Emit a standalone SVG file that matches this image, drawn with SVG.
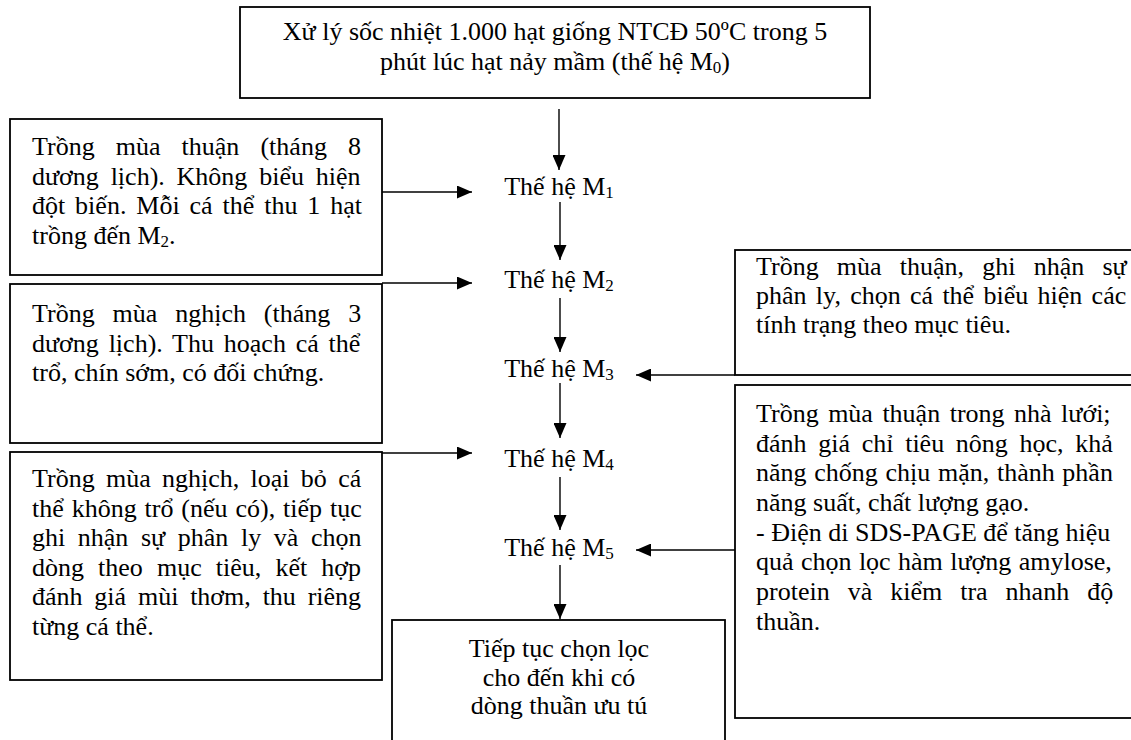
<svg xmlns="http://www.w3.org/2000/svg" width="1131" height="740" viewBox="0 0 1131 740">
<style>
text{font-family:"Liberation Serif","Times New Roman",serif;font-size:26px;fill:#000}
.c{text-anchor:middle}
.box{fill:#fff;stroke:#000;stroke-width:1.8}
.ln{fill:none;stroke:#000;stroke-width:1.4}
.sub{font-size:17px}
</style>
<defs>
<marker id="ah" markerUnits="userSpaceOnUse" markerWidth="15" markerHeight="13" refX="15" refY="6.5" orient="auto">
<path d="M0,0 L15,6.5 L0,13 z" fill="#000"/>
</marker>
</defs>
<rect width="1131" height="740" fill="#fff"/>

<g id="start">
<rect class="box" x="240" y="7" width="630" height="91"/>
<text class="c" x="555" y="40">Xử lý sốc nhiệt 1.000 hạt giống NTCĐ 50ºC trong 5</text>
<text class="c" x="555" y="70">phút lúc hạt nảy mầm (thế hệ M<tspan class="sub" dy="3">0</tspan><tspan dy="-3">)</tspan></text>
</g>

<g id="left1">
<rect class="box" x="10" y="119" width="372" height="156"/>
<text x="32" y="155" style="word-spacing:14.6px">Trồng mùa thuận (tháng 8</text>
<text x="32" y="184.5" style="word-spacing:5.3px">dương lịch). Không biểu hiện</text>
<text x="32" y="214" style="word-spacing:3.4px">đột biến. Mỗi cá thể thu 1 hạt</text>
<text x="32" y="243.5">trồng đến M<tspan class="sub" dy="3">2</tspan><tspan dy="-3">.</tspan></text>
</g>

<g id="left2">
<rect class="box" x="10" y="284" width="372" height="159"/>
<text x="32" y="322" style="word-spacing:11.4px">Trồng mùa nghịch (tháng 3</text>
<text x="32" y="351.5" style="word-spacing:3.3px">dương lịch). Thu hoạch cá thể</text>
<text x="32" y="381">trổ, chín sớm, có đối chứng.</text>
</g>

<g id="left3">
<rect class="box" x="10" y="452" width="372" height="228"/>
<text x="32" y="487" style="word-spacing:4.8px">Trồng mùa nghịch, loại bỏ cá</text>
<text x="32" y="516.5" style="word-spacing:1.4px">thể không trổ (nếu có), tiếp tục</text>
<text x="32" y="546" style="word-spacing:6.1px">ghi nhận sự phân ly và chọn</text>
<text x="32" y="575.5" style="word-spacing:7.6px">dòng theo mục tiêu, kết hợp</text>
<text x="32" y="605" style="word-spacing:5.3px">đánh giá mùi thơm, thu riêng</text>
<text x="32" y="634.5">từng cá thể.</text>
</g>

<g id="right1">
<rect class="box" x="735" y="250" width="420" height="125"/>
<text x="756" y="274.5" style="word-spacing:11.7px">Trồng mùa thuận, ghi nhận sự</text>
<text x="756" y="303.5" style="word-spacing:2.8px">phân ly, chọn cá thể biểu hiện các</text>
<text x="756" y="332.5">tính trạng theo mục tiêu.</text>
</g>

<g id="right2">
<rect class="box" x="735" y="385" width="420" height="333"/>
<text x="756" y="421.5" style="word-spacing:3px">Trồng mùa thuận trong nhà lưới;</text>
<text x="756" y="451.5" style="word-spacing:5.2px">đánh giá chỉ tiêu nông học, khả</text>
<text x="756" y="481" style="word-spacing:1.2px">năng chống chịu mặn, thành phần</text>
<text x="756" y="510.5">năng suất, chất lượng gạo.</text>
<text x="756" y="540.5">- Điện di SDS-PAGE để tăng hiệu</text>
<text x="756" y="570" style="word-spacing:0.9px">quả chọn lọc hàm lượng amylose,</text>
<text x="756" y="600" style="word-spacing:11.5px">protein và kiểm tra nhanh độ</text>
<text x="756" y="630">thuần.</text>
</g>

<g id="end">
<rect class="box" x="392" y="620" width="333" height="140"/>
<text class="c" x="559" y="657">Tiếp tục chọn lọc</text>
<text class="c" x="559" y="685.5">cho đến khi có</text>
<text class="c" x="559" y="714">dòng thuần ưu tú</text>
</g>

<g id="m1"><text class="c" x="559" y="195">Thế hệ M<tspan class="sub" dy="3">1</tspan></text></g>
<g id="m2"><text class="c" x="559" y="288">Thế hệ M<tspan class="sub" dy="3">2</tspan></text></g>
<g id="m3"><text class="c" x="559" y="376.5">Thế hệ M<tspan class="sub" dy="3">3</tspan></text></g>
<g id="m4"><text class="c" x="559" y="467">Thế hệ M<tspan class="sub" dy="3">4</tspan></text></g>
<g id="m5"><text class="c" x="559" y="556">Thế hệ M<tspan class="sub" dy="3">5</tspan></text></g>

<g id="connectors">
<line class="ln" x1="559" y1="109" x2="559" y2="170" marker-end="url(#ah)"/>
<line class="ln" x1="560" y1="202" x2="560" y2="260" marker-end="url(#ah)"/>
<line class="ln" x1="560" y1="298" x2="560" y2="352" marker-end="url(#ah)"/>
<line class="ln" x1="560" y1="383" x2="560" y2="438" marker-end="url(#ah)"/>
<line class="ln" x1="560" y1="477" x2="560" y2="530" marker-end="url(#ah)"/>
<line class="ln" x1="560" y1="565" x2="560" y2="619" marker-end="url(#ah)"/>
<line class="ln" x1="382" y1="192" x2="472" y2="192" marker-end="url(#ah)"/>
<line class="ln" x1="382" y1="283" x2="472" y2="283" marker-end="url(#ah)"/>
<line class="ln" x1="382" y1="453" x2="472" y2="453" marker-end="url(#ah)"/>
<line class="ln" x1="735" y1="375" x2="636" y2="375" marker-end="url(#ah)"/>
<line class="ln" x1="735" y1="550" x2="636" y2="550" marker-end="url(#ah)"/>
</g>
</svg>
